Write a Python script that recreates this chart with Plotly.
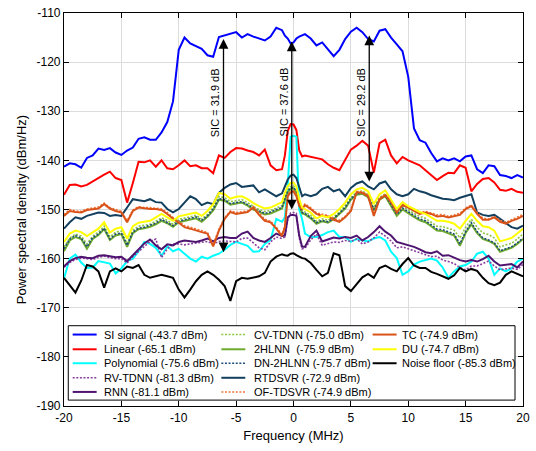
import numpy as np
import plotly.graph_objects as go

# Frequency grid (MHz): 0.5 MHz steps, finer around the carrier
freq = np.concatenate([np.arange(-20, -1.0, 0.5),
                       np.arange(-1.0, 1.01, 0.25),
                       np.arange(1.5, 20.01, 0.5)])

si_signal = [
    -141.3, -140.6, -140.8, -141.5, -139.5, -139.0, -137.6, -137.9, -137.5, -138.4,
    -138.9, -138.0, -137.4, -135.6, -135.3, -135.8, -135.8, -134.3, -132.2, -128.0,
    -117.5, -115.0, -116.2, -116.8, -117.3, -118.6, -118.9, -114.9, -114.6, -114.2,
    -113.9, -115.0, -114.3, -114.8, -115.2, -115.6, -114.8, -113.0,
    -113.5, -114.6, -115.2, -116.2, -116.0, -115.2, -114.8, -114.5, -114.3,
    -115.2, -116.6, -116.0, -117.5, -118.8, -117.5, -115.3, -113.8, -113.0, -113.9,
    -115.3, -115.8, -113.6, -113.3, -115.0, -116.4, -117.8, -123.0, -133.5, -135.9,
    -136.4, -138.5, -140.2, -139.6, -140.0, -139.6, -140.2, -139.2, -139.0, -141.8,
    -142.6, -141.0, -141.2, -143.0, -143.2, -143.6, -143.0, -143.5]

linear = [
    -147.0, -145.0, -144.9, -145.3, -145.0, -144.3, -143.5, -142.9, -142.3, -143.6,
    -144.0, -148.6, -144.6, -140.3, -140.4, -140.0, -141.3, -140.0, -141.6, -141.8,
    -141.0, -140.0, -141.2, -141.0, -141.6, -141.6, -142.6, -139.0, -139.5, -138.3,
    -137.5, -137.6, -138.0, -138.3, -139.0, -137.8, -141.0, -142.0,
    -141.8, -139.0, -134.0, -132.6, -132.7, -133.8, -138.0, -139.2, -139.0,
    -139.3, -139.6, -139.8, -140.8, -141.5, -142.0, -139.8, -137.8, -137.0, -136.0,
    -137.0, -142.5, -136.5, -135.8, -139.0, -140.6, -139.3, -140.0, -140.5, -141.0,
    -142.0, -143.0, -144.0, -143.2, -142.5, -142.6, -141.0, -141.5, -146.3, -144.8,
    -143.8, -143.6, -144.5, -146.0, -146.2, -145.8, -146.4, -146.6]

polynomial = [
    -164.0, -160.0, -159.2, -160.8, -161.9, -161.8, -160.5, -160.8, -161.0, -163.0,
    -162.0, -160.5, -160.0, -158.5, -156.6, -157.0, -157.8, -159.4, -157.5, -158.5,
    -158.0, -159.0, -160.0, -160.6, -159.6, -160.0, -159.4, -159.0, -158.2, -157.2,
    -156.6, -157.0, -157.4, -158.6, -158.5, -157.0, -156.2, -151.9,
    -152.5, -151.6, -145.0, -135.2, -135.0, -135.2, -150.0, -152.0, -154.9,
    -155.6, -155.6, -155.2, -154.6, -154.3, -155.6, -155.6, -156.6, -156.0, -156.3,
    -156.5, -155.9, -155.6, -156.3, -158.6, -159.9, -163.3, -162.6, -161.2, -160.6,
    -160.3, -160.0, -160.4, -161.8, -163.9, -162.6, -161.6, -161.3, -160.6, -159.0,
    -158.6, -160.0, -163.3, -162.0, -162.6, -162.0, -160.6, -160.0]

rv_tdnn = [
    -161.8, -160.8, -160.2, -159.9, -160.0, -160.2, -159.7, -159.5, -159.8, -160.0,
    -160.0, -160.9, -159.6, -158.5, -157.5, -156.5, -156.0, -159.8, -158.0, -157.0,
    -157.0, -157.2, -157.0, -156.8, -156.7, -156.5, -157.0, -156.5, -156.4, -156.5,
    -156.6, -155.9, -155.8, -156.8, -157.8, -158.2, -156.6, -155.6,
    -155.9, -155.6, -152.0, -150.7, -150.6, -150.8, -155.8, -158.0, -157.9,
    -156.2, -155.0, -157.3, -157.0, -156.6, -156.7, -156.3, -156.5, -156.0, -157.0,
    -156.6, -155.8, -154.6, -155.4, -156.4, -157.8, -157.6, -158.0, -158.4, -158.8,
    -159.3, -159.6, -159.5, -160.3, -160.6, -161.0, -161.8, -162.3, -161.5, -161.5,
    -161.0, -160.5, -161.5, -162.3, -162.1, -161.9, -162.2, -161.2]

rnn = [
    -161.6, -160.5, -159.9, -159.6, -159.8, -159.9, -159.4, -159.3, -159.5, -159.7,
    -159.6, -160.5, -159.3, -158.1, -156.9, -156.1, -157.3, -158.1, -157.1, -157.3,
    -156.6, -156.3, -156.5, -156.6, -156.3, -155.9, -156.5, -155.8, -155.6, -155.8,
    -155.8, -154.9, -154.5, -155.8, -156.3, -156.6, -155.8, -154.9,
    -155.4, -155.3, -151.6, -151.1, -151.1, -151.3, -155.3, -157.6, -157.6,
    -155.4, -154.3, -156.5, -156.1, -155.7, -155.9, -155.6, -155.8, -155.3, -156.3,
    -155.6, -154.6, -153.4, -154.5, -155.3, -156.6, -156.9, -157.3, -157.6, -158.1,
    -158.7, -158.9, -158.5, -159.4, -159.3, -159.8, -160.3, -160.6, -160.3, -160.6,
    -160.1, -159.4, -160.6, -161.4, -161.3, -161.1, -161.8, -160.6]

cv_tdnn = [
    -157.6, -155.8, -155.0, -155.4, -157.0, -155.4, -154.6, -153.4, -155.6, -154.6,
    -154.4, -156.9, -154.2, -153.4, -153.2, -153.0, -152.4, -151.7, -152.2, -153.0,
    -152.0, -151.8, -151.5, -151.2, -151.9, -151.0, -149.6, -147.4, -147.6, -148.4,
    -148.2, -148.0, -148.6, -149.4, -150.0, -150.4, -150.2, -149.7,
    -149.2, -147.4, -146.0, -145.3, -145.2, -146.0, -148.5, -150.2, -150.5,
    -151.2, -152.4, -151.9, -152.2, -151.5, -150.5, -149.2, -147.5, -146.5, -146.2,
    -147.0, -149.6, -147.5, -146.8, -148.6, -150.6, -149.3, -150.1, -150.8, -151.4,
    -151.8, -152.6, -153.4, -153.5, -153.8, -154.2, -155.8, -153.6, -152.0, -153.6,
    -154.8, -155.1, -155.8, -157.6, -157.2, -156.9, -156.0, -155.0]

hlnn2 = [
    -158.5, -156.3, -155.6, -156.0, -158.0, -156.0, -155.2, -154.0, -156.2, -155.3,
    -155.0, -157.6, -154.8, -154.0, -153.8, -153.5, -153.0, -152.3, -152.8, -153.5,
    -152.6, -152.3, -152.0, -151.8, -152.5, -151.5, -150.2, -148.0, -148.2, -149.0,
    -148.8, -148.6, -149.2, -150.0, -150.5, -151.0, -150.8, -150.3,
    -149.8, -148.0, -146.5, -145.8, -145.7, -146.5, -149.0, -150.8, -151.0,
    -151.8, -152.9, -152.4, -152.7, -152.0, -151.0, -149.8, -148.0, -147.0, -146.8,
    -147.5, -150.2, -148.0, -147.3, -149.2, -151.3, -150.0, -150.8, -151.5, -152.2,
    -152.6, -153.4, -154.3, -154.4, -154.8, -155.3, -157.4, -154.8, -153.0, -154.8,
    -156.0, -156.4, -157.0, -158.6, -158.2, -157.8, -157.0, -156.0]

dn_2hlnn = [
    -158.0, -156.0, -155.3, -155.8, -157.6, -155.7, -155.0, -153.8, -156.0, -155.0,
    -154.8, -157.3, -154.6, -153.8, -153.6, -153.2, -152.8, -152.0, -152.6, -153.3,
    -152.4, -152.1, -151.8, -151.5, -152.2, -151.3, -149.9, -147.8, -148.0, -148.8,
    -148.6, -148.4, -149.0, -149.7, -150.3, -150.8, -150.5, -150.0,
    -149.6, -147.8, -146.3, -145.6, -145.5, -146.3, -148.8, -150.6, -150.8,
    -151.6, -152.7, -152.2, -152.5, -151.8, -150.8, -149.6, -147.8, -146.8, -146.6,
    -147.3, -150.0, -147.8, -147.1, -149.0, -151.0, -149.7, -150.5, -151.2, -151.9,
    -152.3, -153.1, -154.0, -154.1, -154.5, -155.0, -157.0, -154.5, -152.7, -154.5,
    -155.8, -156.2, -156.8, -158.4, -158.0, -157.6, -156.8, -155.8]

rtdsvr = [
    -153.9, -152.6, -151.6, -151.9, -151.3, -150.9, -150.6, -150.7, -151.3, -151.1,
    -151.3, -149.6, -147.9, -148.1, -148.3, -147.9, -148.5, -148.6, -149.9, -150.6,
    -149.9, -148.6, -147.3, -147.9, -149.1, -148.6, -148.9, -146.6, -145.6, -144.9,
    -144.6, -145.4, -145.3, -145.1, -146.5, -145.9, -146.6, -147.3,
    -146.7, -145.3, -143.9, -143.1, -142.9, -143.6, -145.3, -147.3, -146.9,
    -147.3, -146.9, -145.8, -145.4, -146.3, -145.9, -147.3, -145.6, -144.7, -144.3,
    -145.3, -145.9, -144.7, -144.3, -145.9, -146.9, -147.3, -146.9, -145.8, -146.3,
    -146.6, -147.1, -147.4, -147.8, -147.9, -148.1, -147.6, -147.3, -146.9, -150.6,
    -151.1, -151.3, -151.1, -151.9, -152.7, -153.6, -153.9, -153.3]

of_tdsvr = [
    -151.0, -150.0, -150.3, -150.4, -149.9, -149.7, -149.5, -148.7, -149.6, -150.0,
    -150.4, -152.3, -150.1, -149.4, -149.6, -149.6, -149.7, -149.9, -150.6, -151.6,
    -152.4, -153.3, -153.6, -154.0, -154.3, -154.7, -157.2, -154.0, -151.7, -150.3,
    -150.6, -150.5, -150.3, -149.4, -150.8, -152.0, -152.4, -153.6,
    -155.1, -153.3, -147.0, -146.3, -146.1, -147.1, -149.0, -149.6, -148.9,
    -149.6, -150.7, -151.0, -151.2, -151.8, -152.2, -151.4, -150.0, -146.3, -146.4,
    -147.0, -151.0, -147.7, -146.9, -148.2, -150.3, -148.9, -149.4, -150.0, -150.6,
    -150.4, -150.7, -151.1, -151.0, -151.4, -151.1, -150.8, -149.7, -149.1, -150.6,
    -151.8, -151.9, -151.4, -152.2, -152.6, -152.1, -151.6, -151.0]

tc = [
    -151.3, -150.3, -150.5, -150.6, -150.1, -149.9, -149.8, -148.9, -149.8, -150.3,
    -150.6, -152.6, -150.3, -149.6, -149.8, -149.9, -149.9, -150.1, -150.9, -151.9,
    -152.7, -153.6, -153.9, -154.3, -154.6, -154.9, -157.5, -154.3, -151.9, -150.5,
    -150.9, -150.7, -150.5, -149.6, -151.1, -152.3, -152.6, -153.9,
    -155.4, -153.6, -147.3, -146.5, -146.3, -147.3, -149.3, -149.9, -149.1,
    -149.9, -150.9, -151.3, -151.4, -152.1, -152.5, -151.6, -150.3, -146.5, -146.6,
    -147.3, -151.3, -147.9, -147.1, -148.5, -150.6, -149.1, -149.6, -150.3, -150.9,
    -150.6, -150.9, -151.4, -151.3, -151.6, -151.3, -151.1, -149.9, -149.3, -150.9,
    -152.1, -152.1, -151.6, -152.5, -152.9, -152.3, -151.9, -151.3]

du = [
    -156.6, -154.9, -154.3, -154.6, -155.4, -154.6, -153.9, -152.6, -154.7, -153.9,
    -153.6, -155.9, -153.4, -152.7, -152.5, -152.3, -151.6, -150.9, -151.6, -152.3,
    -151.4, -151.1, -150.9, -150.6, -151.3, -150.3, -148.9, -146.6, -146.9, -147.8,
    -147.4, -147.3, -147.9, -148.7, -149.3, -149.8, -149.6, -149.1,
    -148.5, -146.6, -145.3, -144.6, -144.5, -145.3, -147.9, -149.6, -149.9,
    -150.6, -151.8, -151.3, -151.6, -150.9, -149.9, -148.6, -146.9, -145.9, -145.6,
    -146.3, -148.9, -146.9, -146.1, -147.9, -149.9, -148.5, -149.3, -149.9, -150.5,
    -150.9, -151.6, -152.3, -152.3, -152.5, -152.9, -153.9, -152.3, -150.9, -152.3,
    -153.4, -153.6, -154.3, -156.5, -156.1, -155.8, -154.9, -153.9]

noise_floor = [
    -163.9, -165.3, -166.9, -164.5, -161.3, -161.6, -162.6, -165.9, -162.6, -162.0,
    -162.6, -161.6, -161.9, -161.3, -163.3, -163.9, -163.6, -163.3, -163.6, -163.9,
    -166.3, -167.9, -166.3, -164.6, -163.3, -162.6, -163.3, -164.3, -165.6, -168.6,
    -164.6, -163.9, -164.1, -163.9, -163.6, -162.9, -160.6, -159.6,
    -159.1, -159.3, -159.4, -159.0, -158.9, -159.3, -159.6, -159.9, -160.0,
    -160.9, -162.3, -163.6, -162.9, -158.9, -159.3, -165.6, -166.6, -165.3, -163.8,
    -163.1, -163.9, -161.9, -161.4, -162.1, -162.6, -161.1, -159.9, -161.4, -161.9,
    -161.9, -162.7, -163.1, -163.6, -164.1, -163.4, -161.9, -162.6, -162.1, -162.5,
    -163.9, -165.0, -165.4, -164.9, -163.3, -162.6, -163.1, -163.6]

# Integrated power of each trace, as printed in the legend
names = ["SI signal", "Linear", "Polynomial", "RV-TDNN", "RNN",
         "CV-TDNN", "2HLNN\u00a0", "DN-2HLNN", "RTDSVR", "OF-TDSVR",
         "TC", "DU", "Noise floor"]
powers_dbm = [-43.7, -65.1, -75.6, -81.3, -81.1,
              -75.0, -75.9, -75.7, -72.9, -74.9,
              -74.9, -74.7, -85.3]
curves = [si_signal, linear, polynomial, rv_tdnn, rnn,
          cv_tdnn, hlnn2, dn_2hlnn, rtdsvr, of_tdsvr,
          tc, du, noise_floor]

# SIC markers: frequency, top / bottom of the double arrow, label
sic_freq = [-6.1, -0.15, 6.6]
sic_top = [-115.3, -115.8, -114.6]
sic_bottom = [-159.0, -150.3, -144.6]
sic_text = ["SIC = 31.9 dB", "SIC = 37.6 dB", "SIC = 29.2 dB"]

x_ticks = [-20, -15, -10, -5, 0, 5, 10, 15, 20]
y_ticks = [-190, -180, -170, -160, -150, -140, -130, -120, -110]

DOT = "2px,1.6px"
styles = [
    ("#0000FF", "solid", 2.0),
    ("#FF0000", "solid", 2.0),
    ("#00FFFF", "solid", 2.0),
    ("#8A3FA0", DOT, 1.6),
    ("#4E1470", "solid", 2.0),
    ("#8DC63F", DOT, 1.6),
    ("#6FAA2E", "solid", 2.0),
    ("#1D4C78", DOT, 1.6),
    ("#123F5E", "solid", 2.0),
    ("#F0763A", DOT, 1.6),
    ("#D95319", "solid", 2.0),
    ("#FFFF00", "solid", 2.0),
    ("#000000", "solid", 2.0),
]

FONT = "Liberation Sans, Arial, sans-serif"

fig = go.Figure()
for name, pw, y, (color, dash, width) in zip(names, powers_dbm, curves, styles):
    fig.add_trace(go.Scatter(
        x=freq, y=y, mode="lines", name=f"{name} ({pw} dBm)",
        line=dict(color=color, dash=dash, width=width),
        showlegend=False))

# Double-headed SIC arrows and their rotated labels
annotations = []
for f, top, bot, txt in zip(sic_freq, sic_top, sic_bottom, sic_text):
    annotations.append(dict(
        x=f, y=top, ax=f, ay=bot, xref="x", yref="y", axref="x", ayref="y",
        text="", showarrow=True, arrowhead=2, arrowside="end+start",
        arrowsize=1.5, arrowwidth=1.3, arrowcolor="black",
        standoff=0, startstandoff=0))
    annotations.append(dict(
        x=f - 0.67, y=-128.2, xref="x", yref="y", text=txt, textangle=-90,
        showarrow=False, xanchor="center", yanchor="middle",
        font=dict(family=FONT, size=11, color="black")))

# Three-column legend box inside the axes
shapes = [dict(type="rect", xref="paper", yref="paper",
               x0=0.0093, x1=0.9826, y0=0.015, y1=0.2043,
               line=dict(color="black", width=1), fillcolor="white",
               layer="above")]
col_line_x = [0.0189, 0.3428, 0.6724]
col_text_x = [0.0820, 0.4102, 0.7320]
row_y = [0.1818, 0.1443, 0.1088, 0.0718, 0.0358]
line_len = 0.0522
columns = [range(0, 5), range(5, 10), range(10, 13)]
for c, idxs in enumerate(columns):
    for r, i in enumerate(idxs):
        color, dash, width = styles[i]
        shapes.append(dict(
            type="line", xref="paper", yref="paper",
            x0=col_line_x[c], x1=col_line_x[c] + line_len,
            y0=row_y[r], y1=row_y[r], layer="above",
            line=dict(color=color, dash=dash, width=width)))
        annotations.append(dict(
            x=col_text_x[c], y=row_y[r], xref="paper", yref="paper",
            text=f"{names[i]} ({powers_dbm[i]} dBm)", showarrow=False,
            xanchor="left", yanchor="middle",
            font=dict(family=FONT, size=11, color="black")))

axis_common = dict(
    showline=True, linecolor="black", linewidth=1.2, mirror="ticks",
    ticks="inside", ticklen=5, tickwidth=1, tickcolor="black",
    showgrid=True, gridcolor="#DCDCDC", gridwidth=1.3, zeroline=False,
    ticklabeloverflow="allow",
    tickfont=dict(family=FONT, size=12, color="black"))

fig.update_layout(
    width=536, height=451,
    margin=dict(l=64, r=12, t=6, b=45),
    paper_bgcolor="white", plot_bgcolor="white",
    font=dict(family=FONT, size=12, color="black"),
    xaxis=dict(range=[-20, 20], tickvals=x_ticks,
               ticktext=[str(v) for v in x_ticks],
               title=dict(text="Frequency (MHz)", standoff=7,
                          font=dict(family=FONT, size=13, color="black")),
               **axis_common),
    yaxis=dict(range=[-190, -110], tickvals=y_ticks,
               ticktext=[str(v) for v in y_ticks],
               title=dict(text="Power spectral density (dBm/Hz)", standoff=6,
                          font=dict(family=FONT, size=13, color="black")),
               **axis_common),
    shapes=shapes, annotations=annotations, showlegend=False)

fig.write_html("out.html")
